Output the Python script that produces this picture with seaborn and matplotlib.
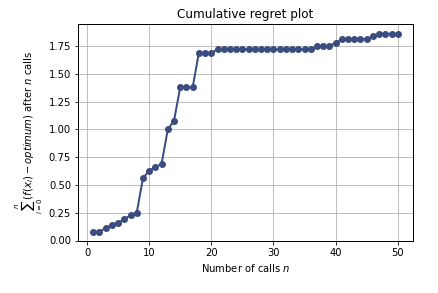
import numpy as np
import pandas as pd
import matplotlib
matplotlib.use("Agg")
import matplotlib.pyplot as plt
import seaborn as sns

n_calls = list(range(1, 51))
regret = [0.08, 0.08, 0.11, 0.14, 0.16, 0.19, 0.23, 0.25, 0.56, 0.63,
          0.66, 0.69, 1.00, 1.08, 1.38, 1.38, 1.38, 1.69, 1.69, 1.69,
          1.72, 1.72, 1.72, 1.72, 1.72, 1.72, 1.72, 1.72, 1.72, 1.72,
          1.72, 1.72, 1.72, 1.72, 1.72, 1.72, 1.75, 1.75, 1.75, 1.78,
          1.81, 1.81, 1.81, 1.81, 1.81, 1.84, 1.86, 1.86, 1.86, 1.86]
x_ticks = [0, 10, 20, 30, 40, 50]
y_ticks = [0.00, 0.25, 0.50, 0.75, 1.00, 1.25, 1.50, 1.75]

df = pd.DataFrame({"n": n_calls, "regret": regret})

sns.set_style("ticks")
plt.rcParams['font.family'] = ['DejaVu Sans']

fig = plt.figure(figsize=(438 / 72, 293 / 72), dpi=72)
ax = fig.add_axes([78 / 438, 1 - 240.5 / 293, (413 - 78) / 438, (240.5 - 24) / 293])

sns.lineplot(data=df, x="n", y="regret", ax=ax, color="#3a4c80",
             marker="o", markersize=7, markeredgewidth=0, lw=2)

ax.set_xticks(x_ticks)
ax.set_yticks(y_ticks)
ax.set_ylim(bottom=0)
ax.grid(True, color="#b0b0b0", lw=0.8)
ax.set_axisbelow(True)
for s in ax.spines.values():
    s.set_visible(True)
    s.set_color("black")
    s.set_linewidth(1.0)
ax.tick_params(colors="black", labelsize=10, length=3.5, width=0.8, direction="out")

ax.set_title("Cumulative regret plot", fontsize=12, color="black")
ax.set_xlabel(r"Number of calls $n$", fontsize=10, color="black")
ax.set_ylabel(r"$\sum_{i=0}^{n}(f(x_i) - optimum)$ after $n$ calls", fontsize=10, color="black")

fig.savefig("out.png", dpi=72)
